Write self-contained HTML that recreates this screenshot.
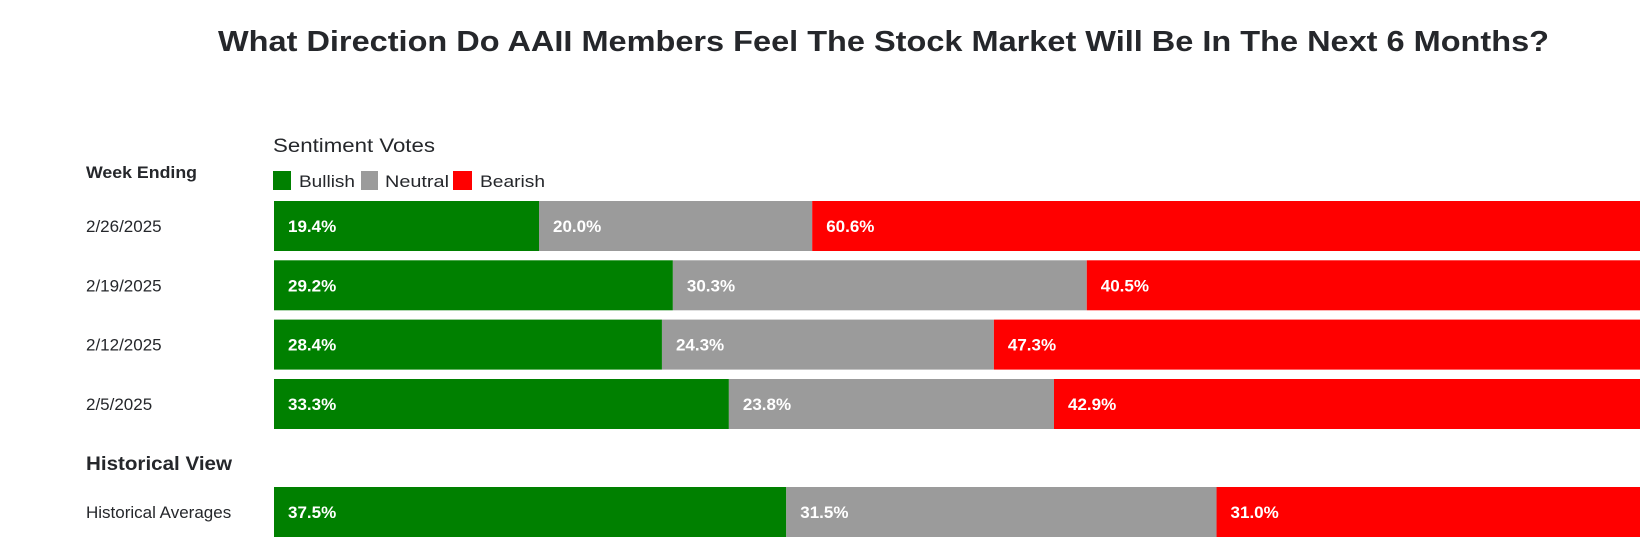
<!DOCTYPE html>
<html><head><meta charset="utf-8"><style>
html,body{margin:0;padding:0;background:#fff;}
svg{display:block;font-family:"Liberation Sans",sans-serif;}
</style></head><body>
<svg id="chart" width="1649" height="544" viewBox="0 0 1649 544">
<text x="218" y="51" font-size="29" font-weight="bold" fill="#25272b" textLength="1331" lengthAdjust="spacingAndGlyphs">What Direction Do AAII Members Feel The Stock Market Will Be In The Next 6 Months?</text>
<text x="273" y="152" font-size="19" fill="#25272b" textLength="162" lengthAdjust="spacingAndGlyphs">Sentiment Votes</text>
<text x="86" y="178" font-size="17" font-weight="bold" fill="#25272b" textLength="111" lengthAdjust="spacingAndGlyphs">Week Ending</text>
<text x="86" y="470" font-size="19" font-weight="bold" fill="#25272b" textLength="146" lengthAdjust="spacingAndGlyphs">Historical View</text>
<g>
<rect x="273" y="171" width="18" height="19" fill="#008000"/>
<text x="299" y="187" font-size="17" fill="#25272b" textLength="56" lengthAdjust="spacingAndGlyphs">Bullish</text>
<rect x="361" y="171" width="17" height="19" fill="#9b9b9b"/>
<text x="385" y="187" font-size="17" fill="#25272b" textLength="64" lengthAdjust="spacingAndGlyphs">Neutral</text>
<rect x="453" y="171" width="19" height="19" fill="#ff0000"/>
<text x="480" y="187" font-size="17" fill="#25272b" textLength="65" lengthAdjust="spacingAndGlyphs">Bearish</text>
</g>
<g id="bars"></g>
</svg>
<script>
const categories = ["2/26/2025","2/19/2025","2/12/2025","2/5/2025","Historical Averages"];
const bullish = [19.4, 29.2, 28.4, 33.3, 37.5];
const neutral = [20.0, 30.3, 24.3, 23.8, 31.5];
const bearish = [60.6, 40.5, 47.3, 42.9, 31.0];

const x0 = 274, x1 = 1640, barH = 50;
const rowTops = [201, 260.3, 319.6, 379, 487];
function xScale(v){ return x0 + (x1 - x0) * v / 100; }
const g = document.getElementById('bars');
const NS = "http://www.w3.org/2000/svg";
const colors = ["#008000","#9b9b9b","#ff0000"];
const names = ["bullish","neutral","bearish"];
categories.forEach((cat, i) => {
  const y = rowTops[i];
  const lab = document.createElementNS(NS, 'text');
  lab.setAttribute('x', 86);
  lab.setAttribute('y', y + barH/2 + 6);
  lab.setAttribute('font-size', 17);
  lab.setAttribute('fill', '#25272b');
  
  
  lab.textContent = cat;
  g.appendChild(lab);
  const vals = [bullish[i], neutral[i], bearish[i]];
  const total = vals[0] + vals[1] + vals[2];
  let acc = 0;
  vals.forEach((v, k) => {
    const xa = xScale(acc / total * 100);
    acc += v;
    const xb = xScale(acc / total * 100);
    const r = document.createElementNS(NS, 'rect');
    r.setAttribute('x', xa);
    r.setAttribute('y', y);
    r.setAttribute('width', xb - xa);
    r.setAttribute('height', barH);
    r.setAttribute('fill', colors[k]);
    
    
    g.appendChild(r);
    const t = document.createElementNS(NS, 'text');
    t.setAttribute('x', xa + 14);
    t.setAttribute('y', y + barH/2 + 6);
    t.setAttribute('font-size', 17);
    t.setAttribute('font-weight', 'bold');
    t.setAttribute('fill', '#fff');
    
    
    t.textContent = v.toFixed(1) + '%';
    g.appendChild(t);
  });
});
</script>
</body></html>
